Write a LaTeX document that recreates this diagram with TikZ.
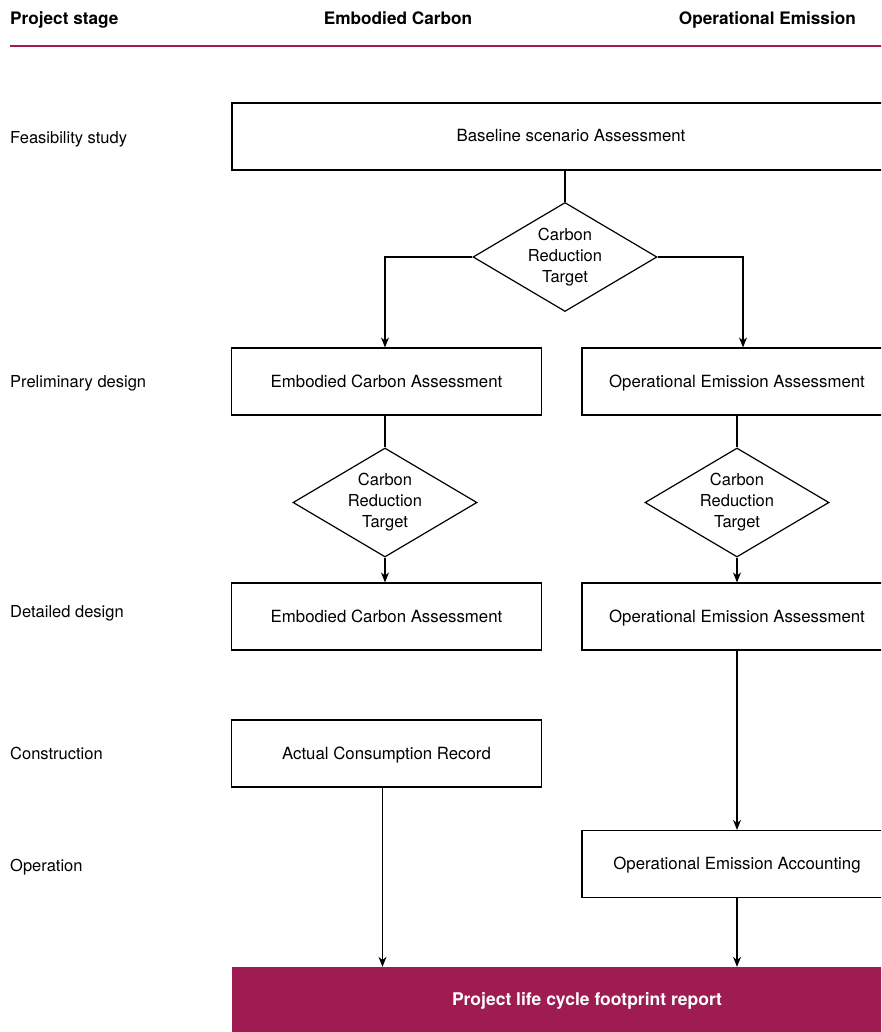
\documentclass[tikz,border=0pt]{standalone}
\usepackage{fontspec}
\setmainfont{TeX Gyre Heros}
\usetikzlibrary{shapes.geometric,arrows.meta}
\definecolor{wine}{HTML}{9E1C52}

\begin{document}
\begin{tikzpicture}[x=1pt,y=-1pt]
  \tikzset{box/.style={draw,line width=1.2pt,minimum width=310pt,minimum height=67pt,inner sep=0pt,text height=14pt,text depth=3pt,font=\fontsize{16.8}{19}\selectfont}}
  \tikzset{decision/.style={draw,diamond,aspect=1.67,line width=1.2pt,minimum width=184pt,minimum height=109pt,inner sep=0pt,align=center,font=\fontsize{16.5}{21}\selectfont}}
  \tikzset{stage/.style={anchor=base west,inner sep=0pt,font=\fontsize{16.5}{19}\selectfont}}
  \tikzset{head/.style={inner sep=0pt,font=\bfseries\fontsize{17.2}{19}\selectfont}}
  \tikzset{report/.style={fill=wine,text=white,minimum width=710pt,minimum height=65pt,inner sep=0pt,text height=14pt,text depth=3pt,font=\bfseries\fontsize{17.5}{19}\selectfont}}
  \tikzset{flow/.style={line width=1.2pt,-{Stealth[length=10pt,width=8pt]}}}
  \tikzset{link/.style={line width=1.2pt}}

  \useasboundingbox (0,0) rectangle (881,1032);
  \clip (0,0) rectangle (881,1032);

  % column headers
  \node[head,anchor=base west] (hstage) at (10,25) {Project stage};
  \node[head,anchor=base] (hemb) at (398,25) {Embodied Carbon};
  \node[head,anchor=base east] (hop) at (856,25) {Operational Emission};
  \coordinate (rulel) at (10,46);
  \coordinate (ruler) at (890,46);
  \draw[wine,line width=2pt] (rulel) -- (ruler);

  % project stages
  \node[stage] (feas) at (10,144) {Feasibility study};
  \node[stage] (prelim) at (10,387) {Preliminary design};
  \node[stage] (detail) at (10,617) {Detailed design};
  \node[stage] (constr) at (10,759) {Construction};
  \node[stage] (oper) at (10,871) {Operation};

  % flow
  \node[box,minimum width=678pt] (base) at (571,136.5) {Baseline scenario Assessment};
  \node[decision] (crt) at (565,257) {Carbon\\Reduction\\Target};
  \node[box] (embpre) at (386.5,381.5) {Embodied Carbon Assessment};
  \node[box] (oppre) at (737,381.5) {Operational Emission Assessment};
  \node[decision] (crtemb) at (385,502.5) {Carbon\\Reduction\\Target};
  \node[decision] (crtop) at (737,502.5) {Carbon\\Reduction\\Target};
  \node[box] (embdet) at (386.5,616.5) {Embodied Carbon Assessment};
  \node[box] (opdet) at (737,616.5) {Operational Emission Assessment};
  \node[box] (actual) at (386.5,753.5) {Actual Consumption Record};
  \node[box] (opacc) at (737,864) {Operational Emission Accounting};
  \node[report] (foot) at (587,999.5) {Project life cycle footprint report};

  \draw[link] (base.south -| crt.north) -- (crt.north);
  \draw[flow] (crt.west) -| ([xshift=-1.5pt]embpre.north);
  \draw[flow] (crt.east) -| ([xshift=6pt]oppre.north);
  \draw[link] (embpre.south -| crtemb.north) -- (crtemb.north);
  \draw[flow] (crtemb.south) -- (crtemb.south |- embdet.north);
  \draw[link] (oppre.south -| crtop.north) -- (crtop.north);
  \draw[flow] (crtop.south) -- (crtop.south |- opdet.north);
  \draw[flow] (opdet.south) -- (opacc.north);
  \draw[flow] ([xshift=-4pt]actual.south) -- ([xshift=-4pt]actual.south |- foot.north);
  \draw[flow] (opacc.south) -- (opacc.south |- foot.north);
\end{tikzpicture}
\end{document}
